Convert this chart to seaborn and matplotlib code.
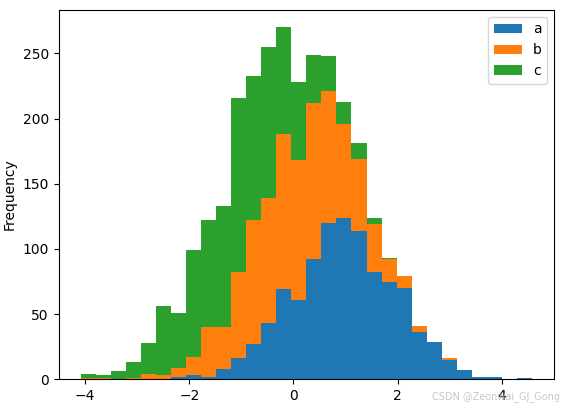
import numpy as np
import pandas as pd
import matplotlib
matplotlib.use("Agg")
import matplotlib.pyplot as plt
from matplotlib.patches import Patch
import seaborn as sns

# 30 shared bins, edges
bin_edges = np.linspace(-4.077, 4.577, 31)

# counts per bin
counts_a = [0, 0, 0, 0, 0, 0, 2, 3, 2, 8, 16, 27, 43, 69, 61,
            92, 120, 124, 114, 82, 75, 70, 36, 29, 15, 7, 2, 2, 0, 1]
counts_b = [1, 1, 0, 1, 4, 3, 7, 14, 38, 32, 66, 95, 96, 119, 107,
            120, 101, 72, 55, 37, 17, 9, 5, 0, 1, 0, 0, 0, 0, 0]
counts_c = [3, 2, 6, 12, 24, 53, 42, 82, 82, 93, 134, 111, 116, 82, 60,
            37, 27, 17, 12, 5, 1, 0, 0, 0, 0, 0, 0, 0, 0, 0]

series_names = ["a", "b", "c"]
colors = {"a": "#1f77b4", "b": "#ff7f0e", "c": "#2ca02c"}

centers = (bin_edges[:-1] + bin_edges[1:]) / 2
frames = []
for name, counts in zip(series_names, [counts_a, counts_b, counts_c]):
    frames.append(pd.DataFrame({"value": centers, "count": counts, "series": name}))
df = pd.concat(frames, ignore_index=True)

fig = plt.figure(figsize=(5.64, 4.11), dpi=100)
ax = fig.add_axes([0.104, 0.0771, 0.8787, 0.899])

# seaborn puts the last hue level at the bottom of the stack
sns.histplot(
    data=df, x="value", weights="count", hue="series",
    hue_order=series_names[::-1], palette=colors,
    bins=list(bin_edges), multiple="stack", element="bars",
    linewidth=0, alpha=1, legend=False, ax=ax,
)

ax.set_xlim(-4.51, 5.01)
ax.set_ylim(0, 283.5)
ax.set_xticks([-4, -2, 0, 2, 4])
ax.set_yticks([0, 50, 100, 150, 200, 250])
ax.set_xlabel("")
ax.set_ylabel("Frequency")

handles = [Patch(facecolor=colors[n], label=n) for n in series_names]
ax.legend(handles=handles, loc="upper right")

fig.text(0.993, 0.022, "CSDN @Zeonwai_GJ_Gong", ha="right", va="bottom",
         fontsize=7, color="#c8c8c8")

fig.savefig("out.png", dpi=100)
